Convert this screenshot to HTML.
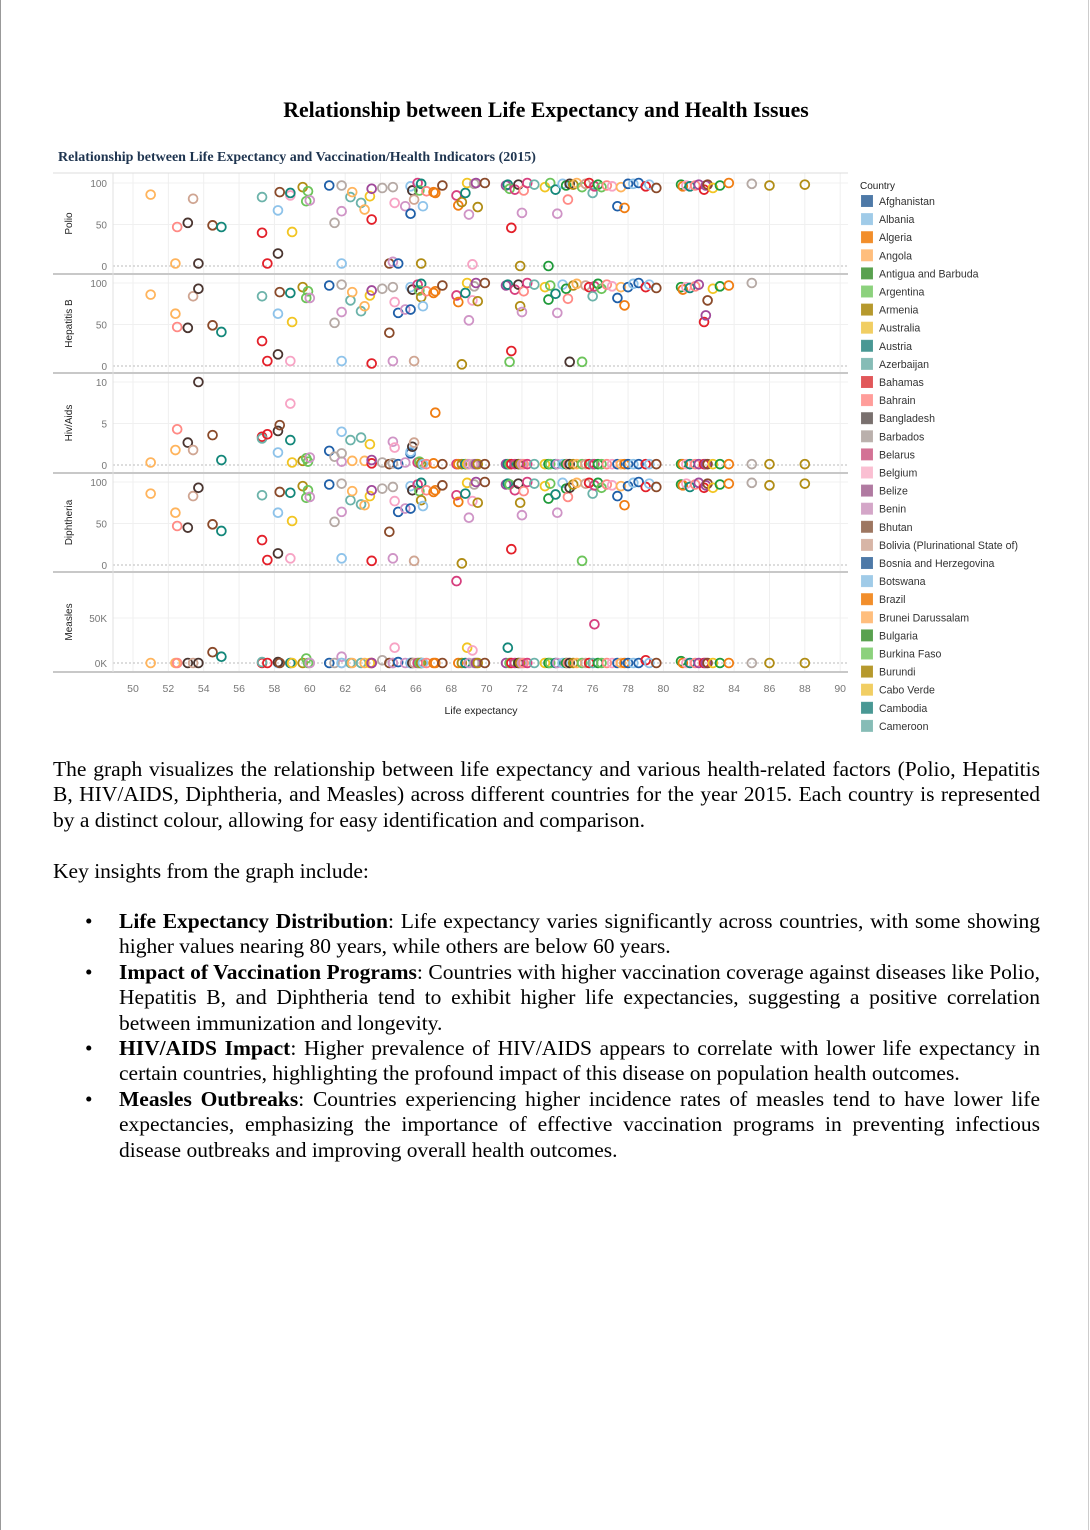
<!DOCTYPE html>
<html><head><meta charset="utf-8"><style>
html,body{margin:0;padding:0;background:#fff}
body{width:1090px;height:1530px;position:relative;overflow:hidden;font-family:"Liberation Serif",serif}
#edge{position:absolute;left:0;top:0;width:1px;height:1530px;background:#999}
#edge2{position:absolute;right:1px;top:0;width:1px;height:1530px;background:#ccc}
h1{position:absolute;left:0;width:1092px;top:98px;margin:0;text-align:center;font-size:21.8px;font-weight:bold}
#sub{position:absolute;left:58px;top:150px;font-size:14px;font-weight:bold;color:#1f3550}
svg{position:absolute;left:0;top:0}
.txt{position:absolute;left:53px;width:987px;font-size:21.5px;line-height:25.4px;text-align:justify;margin:0}
ul{position:absolute;left:53px;top:909px;width:987px;margin:0;padding:0;list-style:none;font-size:21.5px;line-height:25.4px}
li{position:relative;padding-left:66px;text-align:justify}
li:before{content:"•";position:absolute;left:32px;top:0}
</style></head><body>
<div id="edge"></div>
<div id="edge2"></div>
<h1>Relationship between Life Expectancy and Health Issues</h1>
<div id="sub">Relationship between Life Expectancy and Vaccination/Health Indicators (2015)</div>
<svg id="chart" width="1090" height="740"></svg>
<p class="txt" style="top:757px">The graph visualizes the relationship between life expectancy and various health-related factors (Polio, Hepatitis B, HIV/AIDS, Diphtheria, and Measles) across different countries for the year 2015. Each country is represented by a distinct colour, allowing for easy identification and comparison.</p>
<p class="txt" style="top:859px">Key insights from the graph include:</p>
<ul>
<li><b>Life Expectancy Distribution</b>: Life expectancy varies significantly across countries, with some showing higher values nearing 80 years, while others are below 60 years.</li>
<li><b>Impact of Vaccination Programs</b>: Countries with higher vaccination coverage against diseases like Polio, Hepatitis B, and Diphtheria tend to exhibit higher life expectancies, suggesting a positive correlation between immunization and longevity.</li>
<li><b>HIV/AIDS Impact</b>: Higher prevalence of HIV/AIDS appears to correlate with lower life expectancy in certain countries, highlighting the profound impact of this disease on population health outcomes.</li>
<li><b>Measles Outbreaks</b>: Countries experiencing higher incidence rates of measles tend to have lower life expectancies, emphasizing the importance of effective vaccination programs in preventing infectious disease outbreaks and improving overall health outcomes.</li>
</ul>
<script>
const legendNames=["Afghanistan","Albania","Algeria","Angola","Antigua and Barbuda","Argentina","Armenia","Australia","Austria","Azerbaijan","Bahamas","Bahrain","Bangladesh","Barbados","Belarus","Belgium","Belize","Benin","Bhutan","Bolivia (Plurinational State of)","Bosnia and Herzegovina","Botswana","Brazil","Brunei Darussalam","Bulgaria","Burkina Faso","Burundi","Cabo Verde","Cambodia","Cameroon"];
const legendColors=["#4e79a7","#a0cbe8","#f28e2b","#ffbe7d","#59a14f","#8cd17d","#b6992d","#f1ce63","#499894","#86bcb6","#e15759","#ff9d9a","#79706e","#bab0ac","#d37295","#fabfd2","#b07aa1","#d4a6c8","#9d7660","#d7b5a6","#4e79a7","#a0cbe8","#f28e2b","#ffbe7d","#59a14f","#8cd17d","#b6992d","#f1ce63","#499894","#86bcb6"];
const markerColors=["#1f5fa8","#8ec3ea","#f07d12","#ffb45c","#1f9a3a","#6cc45a","#b08c14","#f2c522","#13877a","#6cb3aa","#e3202a","#ff8a85","#4a3530","#b5a9a4","#d63f7e","#f7a3c4","#a0489a","#cf94c6","#8a4a2a","#cfa592"];
const lifeExp=[51.0,52.4,52.5,53.1,53.4,53.7,54.5,55.0,57.3,57.3,57.6,58.2,58.2,58.3,58.9,58.9,59.0,59.6,59.8,59.9,60.0,61.1,61.4,61.8,61.8,61.8,62.3,62.4,62.9,63.1,63.4,63.5,63.5,64.1,64.5,64.7,64.7,64.8,65.0,65.4,65.7,65.7,65.8,65.9,66.1,66.2,66.3,66.3,66.4,66.6,67.0,67.1,67.5,68.3,68.4,68.6,68.8,68.9,69.0,69.2,69.3,69.4,69.5,69.9,71.1,71.2,71.3,71.4,71.6,71.8,71.9,72.0,72.1,72.3,72.7,73.3,73.5,73.6,73.9,74.0,74.3,74.5,74.6,74.7,74.9,75.1,75.4,75.6,75.8,76.0,76.1,76.3,76.5,76.8,77.1,77.4,77.6,77.8,78.0,78.3,78.6,79.0,79.2,79.6,81.0,81.1,81.3,81.5,81.8,82.0,82.3,82.4,82.5,82.8,83.2,83.7,85.0,86.0,88.0];
const polio=[86,3,47,52,81,3,49,47,40,83,3,67,15,89,85,88,41,95,78,90,79,97,52,66,97,3,83,89,76,68,84,56,93,94,3,95,5,76,3,72,63,96,91,80,100,91,99,3,72,90,89,88,97,85,73,77,88,100,62,2,99,100,71,100,97,98,93,46,92,98,0,64,91,100,98,95,0,100,92,63,99,97,80,99,98,100,95,99,100,88,96,98,95,97,96,72,95,70,99,99,100,96,98,94,98,96,97,96,97,98,92,97,98,94,97,100,99,97,98];
const hepB=[86,63,47,46,84,93,49,41,30,84,6,63,14,89,6,88,53,95,82,90,82,97,52,65,98,6,79,89,66,72,85,3,91,93,40,95,6,77,64,68,68,95,92,6,98,91,99,83,72,90,88,90,97,85,77,2,88,100,55,79,96,100,78,100,97,98,5,18,92,98,72,65,90,100,98,95,80,97,87,64,98,93,81,5,97,99,5,97,95,84,96,99,93,98,96,82,95,73,95,99,100,95,98,94,95,92,95,94,96,98,53,61,79,93,96,97,100,null,null];
const hiv=[0.3,1.8,4.3,2.7,1.8,10,3.6,0.6,3.4,3.2,3.7,1.5,4.1,4.8,7.4,3.0,0.3,0.5,0.8,0.4,0.9,1.7,1.0,0.4,1.4,4.0,3.0,0.5,3.3,0.5,2.5,0.2,0.6,0.3,0.1,0.2,2.8,2.1,0.1,0.3,1.4,1.6,2.2,2.7,0.3,0.4,0.1,0.2,0.1,0.1,0.2,6.3,0.1,0.1,0.1,0.1,0.1,0.1,0.1,0.1,0.1,0.1,0.1,0.1,0.1,0.1,0.1,0.1,0.1,0.1,0.1,0.1,0.1,0.1,0.1,0.1,0.1,0.1,0.1,0.1,0.1,0.1,0.1,0.1,0.1,0.1,0.1,0.1,0.1,0.1,0.1,0.1,0.1,0.1,0.1,0.1,0.1,0.1,0.1,0.1,0.1,0.1,0.1,0.1,0.1,0.1,0.1,0.1,0.1,0.1,0.1,0.1,0.1,0.1,0.1,0.1,0.1,0.1,0.1];
const diph=[86,63,47,45,83,93,49,41,30,84,6,63,14,88,8,87,53,95,81,90,82,97,52,64,98,8,78,89,73,72,83,5,90,92,40,94,8,77,64,68,68,95,90,5,97,89,99,78,71,90,88,90,96,84,76,2,86,99,57,77,97,100,75,100,97,98,97,19,90,98,75,60,89,100,98,95,80,98,85,63,99,92,82,93,97,99,5,98,99,86,96,99,93,97,96,83,95,72,95,99,100,94,98,94,97,96,98,94,97,99,93,96,98,93,97,98,99,96,98];
const measlesK=[0,0,0,0,0,0,12,7,0,1,0,0,1,0,0,0,0,0,5,0,0,0,0,7,0,0,0,0,0,0,0,0,0,3,0,0,0,17,1,0,0,0,0,0,0,0,0,0,0,0,0,0,0,91,0,0,0,17,0,14,0,0,0,0,0,17,0,0,0,0,0,0,0,0,0,0,0,0,0,0,0,0,0,0,0,0,0,0,0,0,43,0,0,0,0,0,0,0,0,0,0,3,0,0,2,0,0,0,0,0,0,0,0,0,0,0,0,0,0];
const colorIdx=[3,3,11,12,19,12,18,8,10,9,10,1,12,18,15,8,7,6,5,5,17,0,13,17,13,1,9,3,9,3,7,10,16,13,18,13,17,15,0,17,0,1,12,19,14,5,8,6,1,11,2,2,18,14,2,6,8,7,17,15,13,16,6,18,16,8,5,10,14,12,6,17,11,14,9,7,4,5,8,17,1,4,11,12,6,3,5,19,10,9,14,4,5,11,15,0,3,2,0,1,0,10,1,18,4,2,15,8,11,16,10,16,18,7,4,2,13,6,6];
const xTicks=[50,52,54,56,58,60,62,64,66,68,70,72,74,76,78,80,82,84,86,88,90];
const panelLabels=["Polio","Hepatitis B","Hiv/Aids","Diphtheria","Measles"];
const panelTickLabels=[["0","50","100"],["0","50","100"],["0","5","10"],["0","50","100"],["0K","50K"]];
const panelTickValues=[[0,50,100],[0,50,100],[0,5,10],[0,50,100],[0,50]];

const NS="http://www.w3.org/2000/svg";
const svg=document.getElementById('chart');
function mk(tag,attrs,parent){const e=document.createElementNS(NS,tag);for(const k in attrs)e.setAttribute(k,attrs[k]);(parent||svg).appendChild(e);return e;}
const xScale=v=>133+(v-50)*17.68;
const panels=[{z:266,k:0.83,top:173,bot:274},{z:366,k:0.83,top:274,bot:373},{z:465,k:8.3,top:373,bot:473},{z:565,k:0.83,top:473,bot:572},{z:663,k:0.9,top:572,bot:672}];
const yScale=(p,v)=>panels[p].z-v*panels[p].k;
const series=[polio,hepB,hiv,diph,measlesK];

xTicks.forEach(t=>{
  const g=mk('line',{x1:xScale(t),x2:xScale(t),y1:173,y2:672,stroke:'#efefef','stroke-width':1});
  
  
  const lb=mk('text',{x:xScale(t),y:692,'text-anchor':'middle','font-size':'10.5','fill':'#777','font-family':'Liberation Sans, sans-serif'});
  lb.textContent=t;
  
  
});
panels.forEach((p,i)=>{
  panelTickValues[i].forEach((v,j)=>{
    const y=yScale(i,v);
    const gl=mk('line',{x1:113,x2:848,y1:y,y2:y,stroke:v===0?'#bbb':'#f0f0f0','stroke-width':1,'stroke-dasharray':v===0?'2,2':'none'});
    
    
    const tl=mk('text',{x:107,y:y+4,'text-anchor':'end','font-size':'10','fill':'#777','font-family':'Liberation Sans, sans-serif'});
    tl.textContent=panelTickLabels[i][j];
    
    
  });
  const cy=(p.top+p.bot)/2;
  const al=mk('text',{x:72,y:cy,'text-anchor':'middle','font-size':'10','fill':'#222','font-family':'Liberation Sans, sans-serif',transform:`rotate(-90 72 ${cy})`});
  al.textContent=panelLabels[i];
  
  
  const dv=mk('line',{x1:53,x2:848,y1:p.bot,y2:p.bot,stroke:'#c8c8c8','stroke-width':2});
  
  
});
const topL=mk('line',{x1:53,x2:848,y1:173,y2:173,stroke:'#ddd','stroke-width':1});


const axL=mk('line',{x1:113,x2:113,y1:173,y2:672,stroke:'#e0e0e0','stroke-width':1});


const xt=mk('text',{x:481,y:714,'text-anchor':'middle','font-size':'10.5','fill':'#222','font-family':'Liberation Sans, sans-serif'});
xt.textContent='Life expectancy';



series.forEach((s,p)=>{
  s.forEach((v,i)=>{
    if(v===null||v===undefined)return;
    const c=mk('circle',{cx:xScale(lifeExp[i]),cy:yScale(p,v),r:4.4,fill:'none',stroke:markerColors[colorIdx[i]],'stroke-width':1.8});
    
    
  });
});

const lt=mk('text',{x:860,y:189,'font-size':'10','fill':'#222','font-family':'Liberation Sans, sans-serif'});
lt.textContent='Country';


legendNames.forEach((n,i)=>{
  const y=195+i*18.1;
  const r=mk('rect',{x:861.5,y:y+0.5,width:11,height:11,fill:legendColors[i],stroke:legendColors[i],'stroke-opacity':0.9});
  
  
  const t=mk('text',{x:879,y:y+10,'font-size':'10.6','fill':'#333','font-family':'Liberation Sans, sans-serif'});
  t.textContent=n;
  
  
});
</script>
</body></html>
